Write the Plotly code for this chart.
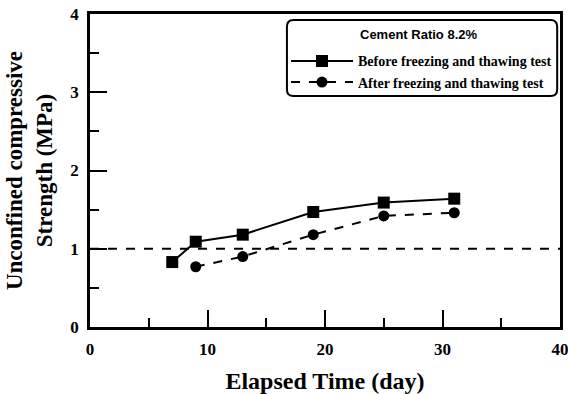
import plotly.graph_objects as go

days_before = [7, 9, 13, 19, 25, 31]
strength_before = [0.83, 1.09, 1.18, 1.47, 1.59, 1.64]
days_after = [9, 13, 19, 25, 31]
strength_after = [0.77, 0.90, 1.18, 1.42, 1.46]
ref_x = [0, 40]
ref_y = [1, 1]

serif = "Liberation Serif, Times New Roman, serif"

fig = go.Figure()
fig.add_trace(go.Scatter(x=ref_x, y=ref_y, mode="lines", showlegend=False,
                         line=dict(color="black", width=2, dash="dash")))
fig.add_trace(go.Scatter(x=days_before, y=strength_before, mode="lines+markers",
                         name="Before freezing and thawing test",
                         line=dict(color="black", width=2),
                         marker=dict(symbol="square", size=12, color="black")))
fig.add_trace(go.Scatter(x=days_after, y=strength_after, mode="lines+markers",
                         name="After freezing and thawing test",
                         line=dict(color="black", width=2, dash="dash"),
                         marker=dict(symbol="circle", size=11, color="black")))

axis_common = dict(showgrid=False, zeroline=False, showline=True, linecolor="black",
                   linewidth=2.5, mirror=True, ticks="inside", ticklen=17, tickwidth=2,
                   tickcolor="black", automargin=False, ticklabeloverflow="allow",
                   tickfont=dict(family=serif, size=17, color="black", weight="bold"))

fig.update_xaxes(range=[0, 40], dtick=10, ticklabelstandoff=5,
                 minor=dict(ticks="inside", ticklen=9, tickwidth=2, dtick=5, tickcolor="black"),
                 title=dict(text="Elapsed Time (day)", standoff=16,
                            font=dict(family=serif, size=24, color="black", weight="bold")),
                 **axis_common)
fig.update_yaxes(range=[0, 4], dtick=1, ticklabelstandoff=5,
                 minor=dict(ticks="inside", ticklen=9, tickwidth=2, dtick=0.5, tickcolor="black"),
                 title=dict(text="Unconfined compressive<br>Strength (MPa)", standoff=12,
                            font=dict(family=serif, size=23, color="black", weight="bold")),
                 **axis_common)

# rounded legend box
x0, x1, y0, y1 = 0.419, 0.994, 0.738, 0.981
rx, ry = 0.014, 0.021
path = (f"M {x0+rx},{y1} L {x1-rx},{y1} Q {x1},{y1} {x1},{y1-ry} "
        f"L {x1},{y0+ry} Q {x1},{y0} {x1-rx},{y0} L {x0+rx},{y0} "
        f"Q {x0},{y0} {x0},{y0+ry} L {x0},{y1-ry} Q {x0},{y1} {x0+rx},{y1} Z")
fig.add_shape(type="path", path=path, xref="paper", yref="paper",
              line=dict(color="black", width=2), fillcolor="white", layer="below")

fig.add_annotation(x=(418-90)/470, y=(327-34)/313, xref="paper", yref="paper",
                   xanchor="center", yanchor="middle",
                   text="Cement Ratio 8.2%", showarrow=False,
                   font=dict(family="Liberation Sans Narrow, Liberation Sans, Arial", size=13,
                             color="black", weight="bold"))

fig.update_layout(
    width=568, height=394,
    margin=dict(l=90, r=8, t=14, b=67, autoexpand=False),
    plot_bgcolor="white", paper_bgcolor="white",
    legend=dict(x=(286-90)/470, y=0.90, xanchor="left", yanchor="top",
                bgcolor="rgba(0,0,0,0)", borderwidth=0, tracegroupgap=0,
                itemwidth=62,
                font=dict(family=serif, size=14, color="black", weight="bold")),
)

fig.write_html("out.html")
